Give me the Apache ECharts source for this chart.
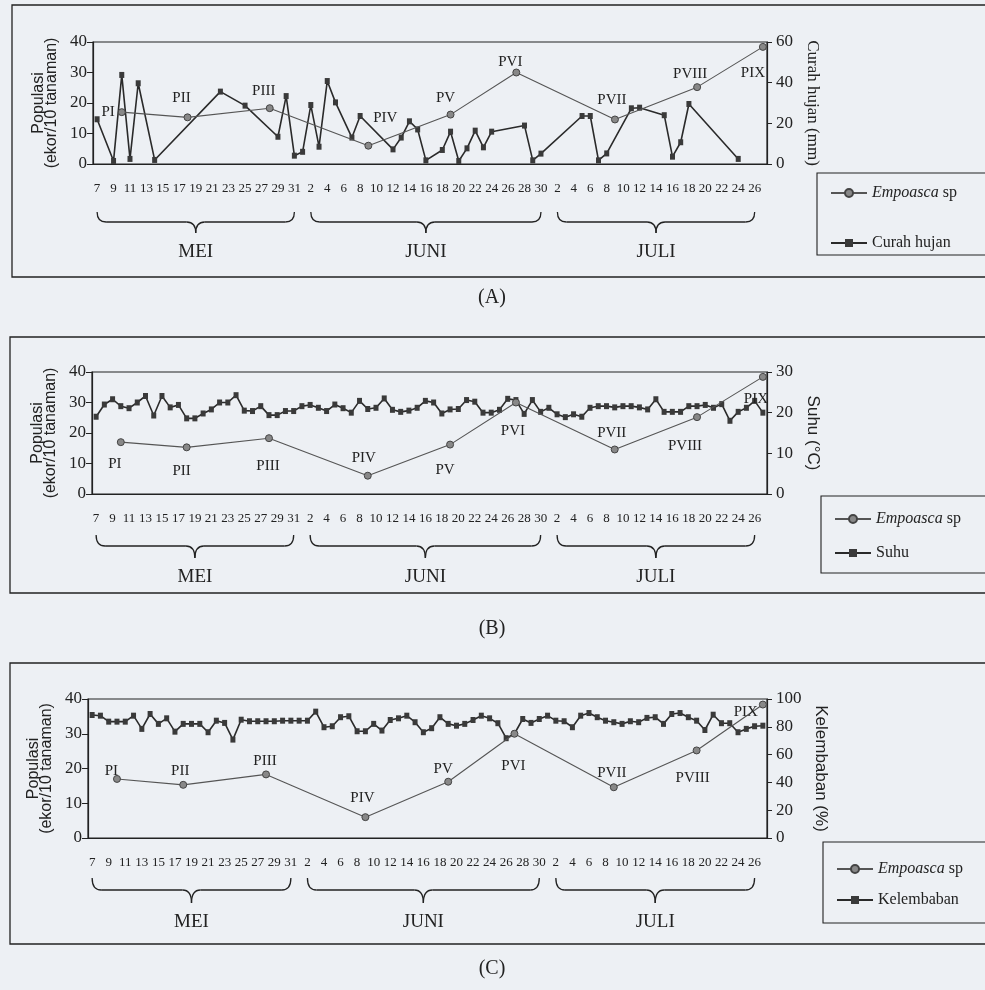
<!DOCTYPE html>
<html>
<head>
<meta charset="utf-8">
<script src="https://cdn.jsdelivr.net/npm/echarts@6/dist/echarts.min.js"></script>
<style>
  html, body { margin: 0; background: #edf0f4; }
  #chart { width: 985px; height: 990px; }
</style>
</head>
<body>
<div id="chart"></div>
<script>
// hari pengamatan: 7 Mei - 27 Juli
const days = [
  "7", "8", "9", "10", "11", "12", "13", "14", "15", "16", "17", "18", "19", "20", "21", "22", "23", "24", "25", "26", "27", "28", "29", "30", "31",
  "1", "2", "3", "4", "5", "6", "7", "8", "9", "10", "11", "12", "13", "14", "15", "16", "17", "18", "19", "20", "21", "22", "23", "24", "25", "26", "27", "28", "29", "30",
  "1", "2", "3", "4", "5", "6", "7", "8", "9", "10", "11", "12", "13", "14", "15", "16", "17", "18", "19", "20", "21", "22", "23", "24", "25", "26", "27"
];
const monthNames = ["MEI", "JUNI", "JULI"];
const monthFrom = [0, 26, 56];   // first labelled day of each month (index in days)
const monthTo = [24, 54, 80];    // last labelled day

// populasi Empoasca sp (ekor/10 tanaman)
const sampleNames = ["PI", "PII", "PIII", "PIV", "PV", "PVI", "PVII", "PVIII", "PIX"];
const sampleDay = [3, 11, 21, 33, 43, 51, 63, 73, 81];
const empoasca = [17, 15.3, 18.3, 6, 16.2, 30, 14.6, 25.2, 38.4];

// curah hujan (mm), only days with rain
const rainDay = [0, 2, 3, 4, 5, 7, 15, 18, 22, 23, 24, 25, 26, 27, 28, 29, 31, 32, 36, 37, 38, 39, 40,
  42, 43, 44, 45, 46, 47, 48, 52, 53, 54, 59, 60, 61, 62, 65, 66, 69, 70, 71, 72, 78];
const rainMm = [22, 1.5, 43.8, 2.5, 39.7, 2, 35.6, 28.7, 13.4, 33.4, 4.1, 6, 29, 8.5, 40.8, 30.3, 13, 23.6, 7.2, 13, 21, 17, 1.8,
  6.9, 15.9, 1.5, 7.7, 16.4, 8.2, 15.9, 18.9, 1.8, 5.1, 23.6, 23.6, 1.8, 5.2, 27.4, 27.7, 24, 3.6, 10.7, 29.5, 2.5];

// suhu (°C)
const suhu = [
  19.0, 22.0, 23.3, 21.6, 21.1, 22.5, 24.1, 19.3, 24.1, 21.3, 21.9, 18.6, 18.6, 19.8, 20.8, 22.5, 22.5, 24.3, 20.5, 20.4,
  21.6, 19.4, 19.4, 20.4, 20.4, 21.6, 21.9, 21.2, 20.4, 22.0, 21.1, 20.0, 22.9, 20.9, 21.2, 23.5, 20.7, 20.2, 20.5, 21.2,
  22.9, 22.5, 19.8, 20.8, 20.9, 23.1, 22.7, 20.0, 20.0, 20.7, 23.4, 23.1, 19.7, 23.1, 20.2, 21.2, 19.6, 18.9, 19.6, 19.0,
  21.2, 21.6, 21.6, 21.3, 21.6, 21.6, 21.3, 20.8, 23.3, 20.2, 20.2, 20.2, 21.6, 21.6, 21.9, 21.2, 22.1, 18.0, 20.2, 21.2,
  22.9, 20.0
];

// kelembaban (%)
const kelembaban = [
  88.5, 88.0, 83.7, 83.7, 83.7, 88.0, 78.5, 89.2, 82.1, 86.1, 76.5, 82.1, 82.1, 82.1, 76.1, 84.4, 82.8, 70.8, 85.1, 84.0,
  84.0, 84.0, 84.0, 84.4, 84.4, 84.4, 84.4, 90.9, 79.7, 80.4, 86.9, 87.6, 76.8, 76.8, 82.1, 77.3, 84.9, 86.1, 88.0, 83.3,
  76.1, 79.0, 86.9, 82.1, 80.8, 82.1, 84.9, 88.0, 86.1, 82.6, 71.8, 75.0, 85.6, 82.8, 85.6, 88.0, 84.4, 84.0, 79.7, 88.0,
  89.9, 86.9, 84.4, 83.3, 82.1, 84.0, 83.3, 86.4, 86.9, 82.1, 89.2, 89.9, 86.9, 84.4, 77.7, 88.7, 82.6, 82.6, 76.1, 78.5,
  80.4, 80.8
];

const SERIF = "Liberation Serif";
const SANS = "Liberation Sans";
const INK = "#222";

const panels = [
  {
    tag: "(A)", envName: "Curah hujan", rightName: "Curah hujan (mm)", rightFont: SERIF, rightGap: 30,
    rightMax: 60, rightStep: 20,
    envData: rainDay.map((d, i) => [d, rainMm[i]]),
    grid: { left: 93, top: 42, width: 674, height: 122 },
    box: [12, 5, 1000, 272], legendBox: [817, 173, 200, 82], legendTop: 180, legendGap: 34,
    brace: [212, 222, 233], monthY: 252, captionY: 298,
    labelPos: [["left", 2, 0], ["top", -6, -3], ["top", -6, -1], ["top", 17, -11], ["top", -5, 0],
      ["top", -6, 6], ["top", -3, -3], ["top", -7, 3], ["bottom", -10, 10]]
  },
  {
    tag: "(B)", envName: "Suhu", rightName: "Suhu (°C)", rightFont: SANS, rightGap: 33,
    rightMax: 30, rightStep: 10,
    envData: suhu,
    grid: { left: 92, top: 372, width: 675, height: 122 },
    box: [10, 337, 1000, 256], legendBox: [821, 496, 200, 77], legendTop: 506, legendGap: 18,
    brace: [535, 546, 558], monthY: 577, captionY: 629,
    labelPos: [["bottom", -6, 5], ["bottom", -5, 7], ["bottom", -1, 11], ["top", -4, -1], ["bottom", -5, 9],
      ["bottom", -3, 12], ["top", -3, 0], ["bottom", -12, 12], ["bottom", -7, 6]]
  },
  {
    tag: "(C)", envName: "Kelembaban", rightName: "Kelembaban (%)", rightFont: SANS, rightGap: 30,
    rightMax: 100, rightStep: 20,
    envData: kelembaban,
    grid: { left: 88, top: 699, width: 679, height: 139 },
    box: [10, 663, 1000, 281], legendBox: [823, 842, 200, 81], legendTop: 856, legendGap: 15,
    brace: [878, 890, 903], monthY: 922, captionY: 969,
    labelPos: [["left", 10, -8], ["top", -3, 3], ["top", -1, 3], ["top", -3, -3], ["top", -5, 4],
      ["bottom", -1, 16], ["top", -2, 2], ["bottom", -4, 11], ["left", 4, 8]]
  }
];

const chart = echarts.init(document.getElementById("chart"));

const grids = [], xAxes = [], yAxes = [], series = [], legends = [];

panels.forEach((p, k) => {
  grids.push(Object.assign({ show: true, borderColor: INK, borderWidth: 1.2, backgroundColor: "transparent" }, p.grid));

  xAxes.push({
    gridIndex: k, type: "category", data: days, boundaryGap: true,
    axisLine: { lineStyle: { color: INK, width: 1.2 } },
    axisTick: { interval: 0, length: 5, lineStyle: { color: INK } },
    axisLabel: { interval: 1, fontFamily: SERIF, fontSize: 13, color: INK, margin: 18 }
  });
  // second copy just for the inward half of the cross ticks
  xAxes.push({
    gridIndex: k, type: "category", data: days, boundaryGap: true, position: "bottom",
    axisLine: { show: false },
    axisTick: { interval: 0, inside: true, length: 5, lineStyle: { color: INK } },
    axisLabel: { show: false }
  });

  yAxes.push({
    gridIndex: k, type: "value", min: 0, max: 40, interval: 10, position: "left",
    name: "Populasi\n(ekor/10 tanaman)", nameLocation: "middle", nameRotate: 90, nameGap: 22,
    nameTextStyle: { fontFamily: SANS, fontSize: 16, color: INK, lineHeight: 13 },
    axisLine: { show: true, lineStyle: { color: INK, width: 1.2 } },
    axisTick: { show: true, length: 6, lineStyle: { color: INK } },
    axisLabel: { fontFamily: SERIF, fontSize: 17, color: INK, margin: 6 },
    splitLine: { show: false }
  });
  yAxes.push({
    gridIndex: k, type: "value", min: 0, max: p.rightMax, interval: p.rightStep, position: "right",
    name: p.rightName, nameLocation: "middle", nameRotate: -90, nameGap: p.rightGap,
    nameTextStyle: { fontFamily: p.rightFont, fontSize: 17, color: INK },
    axisLine: { show: true, lineStyle: { color: INK, width: 1.2 } },
    axisTick: { show: true, length: 5, lineStyle: { color: INK } },
    axisLabel: { fontFamily: SERIF, fontSize: 17, color: INK, margin: 9 },
    splitLine: { show: false }
  });

  series.push({
    name: p.envName, type: "line",
    xAxisIndex: 2 * k, yAxisIndex: 2 * k + 1,
    data: p.envData,
    symbol: "rect", symbolSize: [5, 6], showAllSymbol: true,
    lineStyle: { color: "#2a2a2a", width: 1.6 },
    itemStyle: { color: "#3a3a3a" },
    z: 3
  });
  series.push({
    name: "Empoasca sp", type: "line",
    xAxisIndex: 2 * k, yAxisIndex: 2 * k,
    data: sampleDay.map((d, i) => ({
      value: [d, empoasca[i]],
      label: { position: p.labelPos[i][0] }
    })),
    symbol: "circle", symbolSize: 7, showAllSymbol: true,
    lineStyle: { color: "#555", width: 1.1 },
    itemStyle: { color: "#888", borderColor: "#444", borderWidth: 1 },
    label: {
      show: true, fontFamily: SERIF, fontSize: 15, color: INK,
      formatter: (prm) => sampleNames[prm.dataIndex]
    },
    labelLayout: (prm) => ({
      dx: p.labelPos[prm.dataIndex][1],
      dy: p.labelPos[prm.dataIndex][2],
      hideOverlap: false
    }),
    z: 4
  });

  legends.push({
    data: ["Empoasca sp", p.envName].map((n) => ({ name: n })),
    orient: "vertical", left: p.legendBox[0] + 8, top: p.legendTop,
    itemGap: p.legendGap, itemWidth: 36, itemHeight: 10,
    selectedMode: false,
    formatter: (n) => (n === "Empoasca sp" ? "{i|Empoasca} sp" : n),
    textStyle: {
      fontFamily: SERIF, fontSize: 16, color: INK,
      rich: { i: { fontFamily: SERIF, fontSize: 16, fontStyle: "italic", color: INK } }
    }
  });
});

chart.setOption({
  backgroundColor: "#edf0f4",
  animation: false,
  grid: grids,
  xAxis: xAxes,
  yAxis: yAxes,
  legend: legends,
  series: series
});

// frames, braces and month names
const decor = [];
const stroke = { fill: "none", stroke: INK, lineWidth: 1.3 };

// horizontal curly brace from x1 to x2: ends at y0, bar at y1, tip at y2
const addBrace = (x1, x2, y0, y1, y2) => {
  const xm = (x1 + x2) / 2, r = 9;
  const curve = (ax, ay, cx, cy, bx, by) => decor.push({
    type: "bezierCurve", silent: true,
    shape: { x1: ax, y1: ay, cpx1: cx, cpy1: cy, x2: bx, y2: by },
    style: stroke
  });
  const bar = (ax, bx) => decor.push({
    type: "line", silent: true,
    shape: { x1: ax, y1: y1, x2: bx, y2: y1 },
    style: stroke
  });
  curve(x1, y0, x1, y1, x1 + r, y1);
  bar(x1 + r, xm - r);
  curve(xm - r, y1, xm, y1, xm, y2);
  curve(xm, y2, xm, y1, xm + r, y1);
  bar(xm + r, x2 - r);
  curve(x2 - r, y1, x2, y1, x2, y0);
};

panels.forEach((p, k) => {
  decor.push({
    type: "rect", silent: true, z: -1,
    shape: { x: p.box[0], y: p.box[1], width: p.box[2], height: p.box[3] },
    style: { fill: "none", stroke: INK, lineWidth: 1.3 }
  });
  decor.push({
    type: "rect", silent: true, z: -1,
    shape: { x: p.legendBox[0], y: p.legendBox[1], width: p.legendBox[2], height: p.legendBox[3] },
    style: { fill: "none", stroke: INK, lineWidth: 1.1 }
  });
  decor.push({
    type: "text", silent: true,
    style: { text: p.tag, x: 492, y: p.captionY, font: "20px " + SERIF, fill: INK, textAlign: "center", textVerticalAlign: "middle" }
  });
  monthNames.forEach((m, j) => {
    const x1 = chart.convertToPixel({ xAxisIndex: 2 * k }, monthFrom[j]);
    const x2 = chart.convertToPixel({ xAxisIndex: 2 * k }, monthTo[j]);
    addBrace(x1, x2, p.brace[0], p.brace[1], p.brace[2]);
    decor.push({
      type: "text", silent: true,
      style: { text: m, x: (x1 + x2) / 2, y: p.monthY, font: "19px " + SERIF, fill: INK, textAlign: "center", textVerticalAlign: "middle" }
    });
  });
});

chart.setOption({ graphic: decor });
</script>
</body>
</html>
